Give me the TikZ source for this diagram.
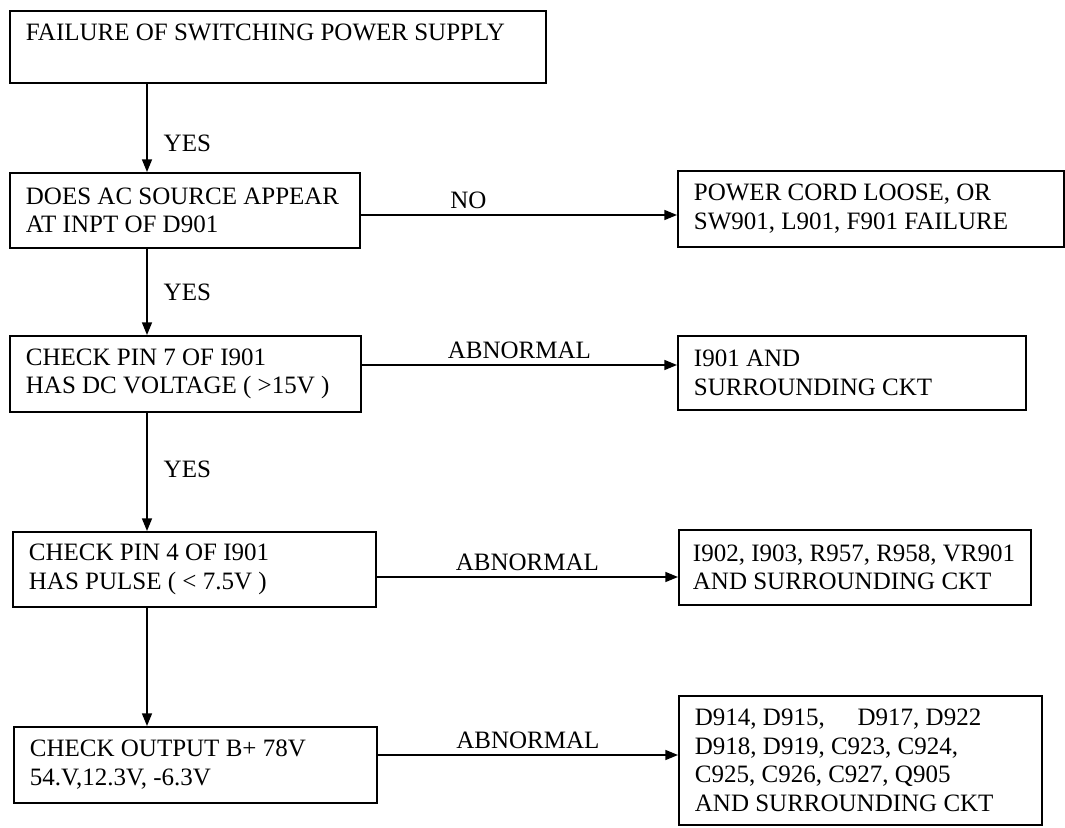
\documentclass[tikz,border=0pt]{standalone}
\usepackage{fontspec}
\setmainfont{Liberation Serif}
\usepackage{tikz}
\usetikzlibrary{arrows.meta,positioning,calc}

\begin{document}
\begin{tikzpicture}[x=0.75pt,y=-0.75pt,>={Triangle[length=9.5pt,width=7.5pt]},
  every node/.style={font=\fontsize{18.75pt}{21.5pt}\selectfont},
  flowbox/.style={draw,line width=1.4pt,anchor=north west,align=flush left,inner xsep=12pt,inner ysep=0pt},
  flowarrow/.style={->,line width=1.1pt},
  flowlabel/.style={inner sep=0pt}]
  \clip (0,0) rectangle (1065,828);
  \node[flowbox,text width=378pt,minimum height=54pt] (failure) at (9,10) {FAILURE OF SWITCHING POWER SUPPLY\\ \mbox{}};
  \node[flowbox,text width=238.5pt,minimum height=56.25pt] (acsource) at (9,172) {DOES AC SOURCE APPEAR\\AT INPT OF D901};
  \node[flowbox,text width=265.5pt,minimum height=57pt] (cordloose) at (677,170) {POWER CORD LOOSE, OR\\SW901, L901, F901 FAILURE};
  \node[flowbox,text width=239.25pt,minimum height=57pt] (pinseven) at (9,335) {CHECK PIN 7 OF I901\\HAS DC VOLTAGE ( >15V )};
  \node[flowbox,text width=237pt,minimum height=55.5pt] (iccheck) at (677,335) {I901 AND\\SURROUNDING CKT};
  \node[flowbox,text width=248.25pt,minimum height=56.25pt] (pinfour) at (12,531) {CHECK PIN 4 OF I901\\HAS PULSE ( < 7.5V )};
  \node[flowbox,inner xsep=10.5pt,text width=243pt,minimum height=56.25pt] (pulseckt) at (678,529) {I902, I903, R957, R958, VR901\\AND SURROUNDING CKT};
  \node[flowbox,text width=248.25pt,minimum height=57pt] (output) at (13,726) {CHECK OUTPUT B+ 78V\\54.V,12.3V, -6.3V};
  \node[flowbox,text width=248.25pt,inner ysep=9.75pt] (outputckt) at (678,695) {D914, D915,\hspace{20pt} D917, D922\\D918, D919, C923, C924,\\C925, C926, C927, Q905\\AND SURROUNDING CKT};

  \coordinate (spine) at (147,0);
  \coordinate (rowac) at (0,215);
  \coordinate (rowpin7) at (0,365);
  \coordinate (rowpin4) at (0,577);
  \coordinate (rowout) at (0,755);

  \draw[flowarrow] (failure.south -| spine) -- (acsource.north -| spine)
    node[flowlabel,pos=0.67,anchor=west,xshift=12pt] {YES};
  \draw[flowarrow] (acsource.south -| spine) -- (pinseven.north -| spine)
    node[flowlabel,pos=0.51,anchor=west,xshift=12pt] {YES};
  \draw[flowarrow] (pinseven.south -| spine) -- (pinfour.north -| spine)
    node[flowlabel,pos=0.48,anchor=west,xshift=12pt] {YES};
  \draw[flowarrow] (pinfour.south -| spine) -- (output.north -| spine);

  \draw[flowarrow] (acsource.east |- rowac) -- (cordloose.west |- rowac)
    node[flowlabel,pos=0.34,above=4.5pt] {NO};
  \draw[flowarrow] (pinseven.east |- rowpin7) -- (iccheck.west |- rowpin7)
    node[flowlabel,midway,above=4.5pt] {ABNORMAL};
  \draw[flowarrow] (pinfour.east |- rowpin4) -- (pulseckt.west |- rowpin4)
    node[flowlabel,midway,above=4.5pt] {ABNORMAL};
  \draw[flowarrow] (output.east |- rowout) -- (outputckt.west |- rowout)
    node[flowlabel,midway,above=4.5pt] {ABNORMAL};
\end{tikzpicture}
\end{document}
